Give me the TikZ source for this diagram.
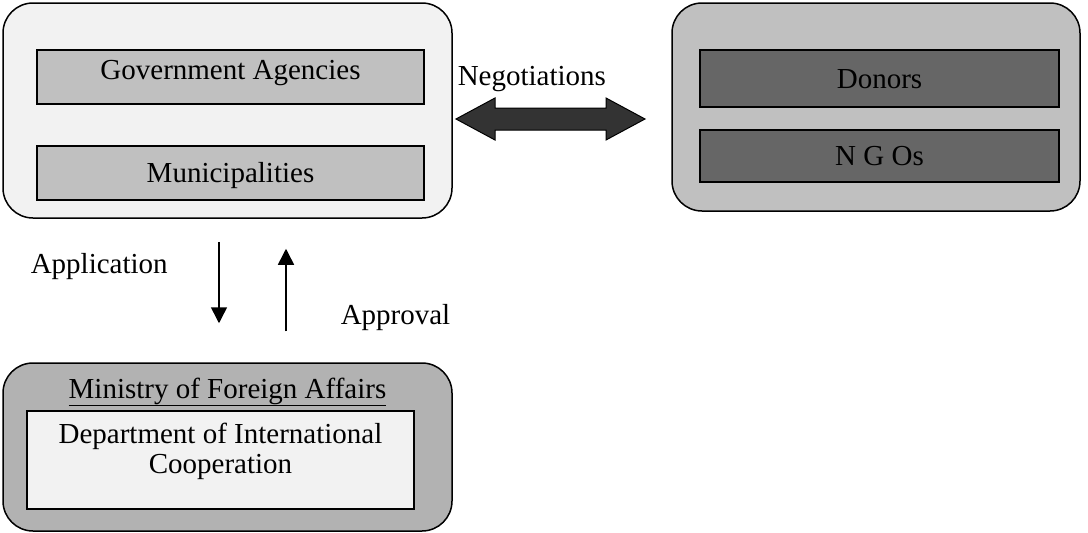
\documentclass[tikz,border=0pt]{standalone}
\usepackage{fontspec}
\setmainfont{Liberation Serif}
\usetikzlibrary{arrows.meta}
\definecolor{paleback}{HTML}{F2F2F2}
\definecolor{midgrey}{HTML}{C0C0C0}
\definecolor{darkgrey}{HTML}{666666}
\definecolor{mfagrey}{HTML}{B2B2B2}
\definecolor{arrowgrey}{HTML}{333333}
\begin{document}
\begin{tikzpicture}[x=1pt, y=-1pt, line width=1.5pt,
  every node/.style={font=\fontsize{29}{30}\selectfont},
  group/.style={draw, rounded corners=30pt, inner sep=0pt},
  unit/.style={draw, inner sep=0pt, text height=19pt, text depth=0pt},
  lbl/.style={inner sep=0pt, anchor=base west},
  flow/.style={-{Triangle[width=16pt, length=16pt]}}]
  \useasboundingbox (0,0) rectangle (1088,533);
  % applicants
  \node[group, fill=paleback, minimum width=449pt, minimum height=215pt] (tl) at (227.5,110.5) {};
  \node[unit, fill=midgrey, minimum width=387pt, minimum height=54pt, text depth=14pt] (gov) at (230.5,77) {Government Agencies};
  \node[unit, fill=midgrey, minimum width=387pt, minimum height=54pt] (muni) at (230.5,173) {Municipalities};
  % funders
  \node[group, fill=midgrey, minimum width=408pt, minimum height=208pt] (tr) at (876,107) {};
  \node[unit, fill=darkgrey, minimum width=359pt, minimum height=57pt] (donors) at (879.5,78.5) {Donors};
  \node[unit, fill=darkgrey, minimum width=359pt, minimum height=52pt] (ngos) at (879.5,156) {N G Os};
  % ministry
  \node[group, fill=mfagrey, minimum width=449pt, minimum height=168pt] (mfa) at (227.5,447) {};
  \node[inner sep=0pt, anchor=base] (mfatext) at (227.5,398) {\underline{Ministry of Foreign Affairs}};
  \node[draw, fill=paleback, inner sep=0pt, minimum width=387pt, minimum height=98pt] (dic) at (220.5,460) {};
  \node[inner sep=0pt, anchor=north, align=center] (dictext) at (220.5,422) {Department of International\\Cooperation};
  % negotiations
  \coordinate (negl) at (456,119);
  \coordinate (negr) at (645,119);
  \draw[line width=1pt, fill=arrowgrey] (negl) -- ++(39,-21) -- ++(0,10) -- ([shift={(-39,-11)}]negr) -- ++(0,-10) -- (negr)
    -- ++(-39,21) -- ++(0,-10) -- ([shift={(39,11)}]negl) -- ++(0,10) -- cycle;
  \node[lbl] (neglbl) at (457,85) {Negotiations};
  % application and approval
  \draw[flow, shorten <=23pt, shorten >=39pt] ([xshift=-8.5pt]tl.south) -- ([xshift=-8.5pt]mfa.north);
  \draw[flow, shorten <=31pt, shorten >=30pt] ([xshift=58.5pt]mfa.north) -- ([xshift=58.5pt]tl.south);
  \node[lbl] (applbl) at (30,273) {Application};
  \node[lbl] (apprlbl) at (340,324) {Approval};
\end{tikzpicture}
\end{document}
